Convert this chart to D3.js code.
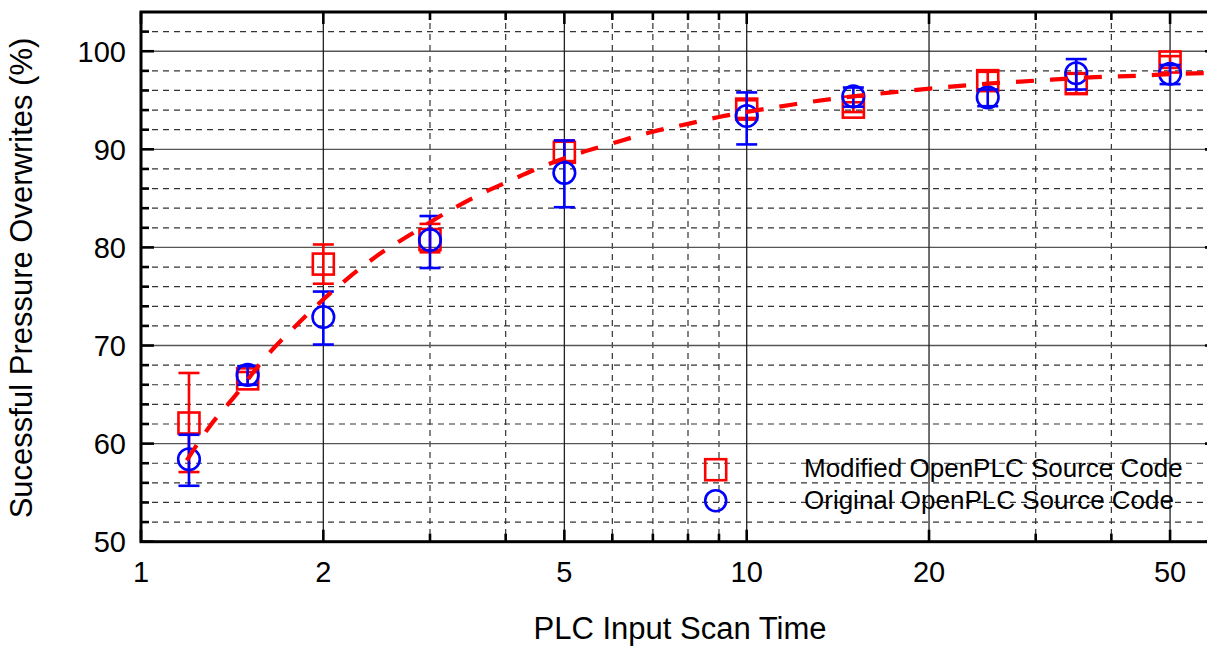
<!DOCTYPE html>
<html>
<head>
<meta charset="utf-8">
<script src="https://cdn.jsdelivr.net/npm/d3@7"></script>
<style>
  html, body { margin: 0; padding: 0; background: #fff; overflow: hidden; }
  svg { display: block; }
  text { font-family: "Liberation Sans", Arial, Helvetica, sans-serif; fill: #000; }
</style>
</head>
<body>
<script>
// ---------------- data ----------------
const scanTimes = [1.2, 1.5, 2, 3, 5, 10, 15, 25, 35, 50];

const modifiedMean = [62.1, 66.6, 78.3, 80.8, 89.7, 94.1, 94.3, 97.0, 96.7, 98.9];
const modifiedLow  = [57.1, 66.0, 76.3, 79.5, 88.8, 93.2, 93.8, 96.1, 95.7, 98.3];
const modifiedHigh = [67.2, 67.3, 80.3, 82.4, 90.9, 95.0, 94.8, 97.9, 97.7, 99.5];

const originalMean = [58.4, 67.0, 72.9, 80.75, 87.6, 93.4, 95.4, 95.3, 97.75, 97.7];
const originalLow  = [55.7, 66.0, 70.1, 77.9, 84.1, 90.5, 94.35, 94.4, 96.1, 96.65];
const originalHigh = [60.9, 67.9, 75.5, 83.2, 90.9, 95.8, 96.3, 96.1, 99.2, 98.6];

// fitted trend
const fitX = [1.19, 1.3, 1.44, 1.6, 1.8, 2.0, 2.2, 2.5, 2.8, 3.2, 3.6, 4, 4.5, 5, 6, 7, 8, 9, 10, 12, 15, 18, 21, 25, 30, 36, 44, 52, 60];
const fitY = [58.3, 61.8, 65.1, 68.7, 72.0, 74.7, 76.9, 79.5, 81.4, 83.6, 85.3, 86.6, 88.0, 89.1, 90.6, 91.8, 92.6, 93.3, 93.8, 94.6, 95.4, 95.9, 96.3, 96.7, 97.0, 97.3, 97.5, 97.7, 97.8];

const xMajorTicks = [1, 2, 5, 10, 20, 50];
const xMinorTicks = [3, 4, 6, 7, 8, 9, 30, 40];
const yMajorTicks = [50, 60, 70, 80, 90, 100];
const yMinorTicks = [52, 54, 56, 58, 62, 64, 66, 68, 72, 74, 76, 78, 82, 84, 86, 88, 92, 94, 96, 98, 102];

const seriesNames = ["Modified OpenPLC Source Code", "Original OpenPLC Source Code"];
const xTitle = "PLC Input Scan Time";
const yTitle = "Sucessful Pressure Overwrites (%)";

// ---------------- layout ----------------
const W = 1207, H = 647;
const pLeft = 141, pTop = 12, pBottom = 541.7;
const xDomain = [1, 60], yDomain = [50, 104];
const pRight = pLeft + 605.7 * Math.log10(xDomain[1]);

const x = d3.scaleLog().domain(xDomain).range([pLeft, pRight]);
const y = d3.scaleLinear().domain(yDomain).range([pBottom, pTop]);

const svg = d3.select("body").append("svg").attr("width", W).attr("height", H);
svg.append("rect").attr("width", W).attr("height", H).attr("fill", "#fff");

// ---------------- grid ----------------
const grid = svg.append("g");
grid.selectAll(".hmin").data(yMinorTicks).join("line")
  .attr("x1", pLeft).attr("x2", pRight).attr("y1", d => y(d)).attr("y2", d => y(d))
  .attr("stroke", "#333").attr("stroke-width", 1.2).attr("stroke-dasharray", "6,5");
grid.selectAll(".vmin").data(xMinorTicks).join("line")
  .attr("x1", d => x(d)).attr("x2", d => x(d)).attr("y1", pTop).attr("y2", pBottom)
  .attr("stroke", "#333").attr("stroke-width", 1.2).attr("stroke-dasharray", "6,5");
grid.selectAll(".hmaj").data(yMajorTicks.slice(1)).join("line")
  .attr("x1", pLeft).attr("x2", pRight).attr("y1", d => y(d)).attr("y2", d => y(d))
  .attr("stroke", "#555").attr("stroke-width", 1.4);
grid.selectAll(".vmaj").data(xMajorTicks.slice(1)).join("line")
  .attr("x1", d => x(d)).attr("x2", d => x(d)).attr("y1", pTop).attr("y2", pBottom)
  .attr("stroke", "#222").attr("stroke-width", 1.3);

// ---------------- series ----------------
const capHalf = 10.5;
function drawSeries(mean, low, high, color, marker) {
  const g = svg.append("g").attr("stroke", color).attr("fill", "none").attr("stroke-width", 2.6);
  const idx = d3.range(scanTimes.length);
  g.selectAll(".eb").data(idx).join("line")
    .attr("x1", i => x(scanTimes[i])).attr("x2", i => x(scanTimes[i]))
    .attr("y1", i => y(low[i])).attr("y2", i => y(high[i]));
  g.selectAll(".capL").data(idx).join("line")
    .attr("x1", i => x(scanTimes[i]) - capHalf).attr("x2", i => x(scanTimes[i]) + capHalf)
    .attr("y1", i => y(low[i])).attr("y2", i => y(low[i]));
  g.selectAll(".capH").data(idx).join("line")
    .attr("x1", i => x(scanTimes[i]) - capHalf).attr("x2", i => x(scanTimes[i]) + capHalf)
    .attr("y1", i => y(high[i])).attr("y2", i => y(high[i]));
  if (marker === "square") {
    g.selectAll(".mk").data(idx).join("rect")
      .attr("x", i => x(scanTimes[i]) - 10.5).attr("y", i => y(mean[i]) - 10.5)
      .attr("width", 21).attr("height", 21);
  } else {
    g.selectAll(".mk").data(idx).join("circle")
      .attr("cx", i => x(scanTimes[i])).attr("cy", i => y(mean[i])).attr("r", 10.8);
  }
}
drawSeries(modifiedMean, modifiedLow, modifiedHigh, "#ff0000", "square");
drawSeries(originalMean, originalLow, originalHigh, "#0000ff", "circle");

// fit line
const fitLine = d3.line().x(d => x(d[0])).y(d => y(d[1])).curve(d3.curveMonotoneX);
svg.append("path")
  .datum(fitX.map((v, i) => [v, fitY[i]]))
  .attr("d", fitLine)
  .attr("fill", "none").attr("stroke", "#ff0000").attr("stroke-width", 4.2)
  .attr("stroke-dasharray", "18,16");

// ---------------- axes / box ----------------
const ax = svg.append("g").attr("stroke", "#000");
ax.selectAll(".ylt").data(yMajorTicks.concat(yMinorTicks)).join("line")
  .attr("x1", pLeft).attr("x2", d => pLeft + (yMajorTicks.includes(d) ? 13 : 8))
  .attr("y1", d => y(d)).attr("y2", d => y(d)).attr("stroke-width", 2.6);
ax.selectAll(".yrt").data(yMajorTicks.concat(yMinorTicks)).join("line")
  .attr("x1", pRight).attr("x2", d => pRight - (yMajorTicks.includes(d) ? 13 : 8))
  .attr("y1", d => y(d)).attr("y2", d => y(d)).attr("stroke-width", 2.6);
ax.selectAll(".xbt").data(xMajorTicks.concat(xMinorTicks)).join("line")
  .attr("x1", d => x(d)).attr("x2", d => x(d))
  .attr("y1", pBottom).attr("y2", d => pBottom - (xMajorTicks.includes(d) ? 12 : 8)).attr("stroke-width", 2.6);
ax.selectAll(".xtt").data(xMajorTicks.concat(xMinorTicks)).join("line")
  .attr("x1", d => x(d)).attr("x2", d => x(d))
  .attr("y1", pTop).attr("y2", d => pTop + (xMajorTicks.includes(d) ? 12 : 8)).attr("stroke-width", 2.6);
ax.append("rect").attr("x", pLeft).attr("y", pTop).attr("width", pRight - pLeft).attr("height", pBottom - pTop)
  .attr("fill", "none").attr("stroke-width", 3);

// tick labels
svg.append("g").selectAll("text").data(xMajorTicks).join("text")
  .attr("x", d => x(d)).attr("y", 582).attr("text-anchor", "middle")
  .attr("font-size", 29).text(d => d);
svg.append("g").selectAll("text").data(yMajorTicks).join("text")
  .attr("x", 126).attr("y", d => y(d) + 10.5).attr("text-anchor", "end")
  .attr("font-size", 29).text(d => d);

// axis titles
svg.append("text").attr("x", 680).attr("y", 639).attr("text-anchor", "middle")
  .attr("font-size", 31).text(xTitle);
svg.append("text").attr("transform", "translate(32,278) rotate(-90)")
  .attr("text-anchor", "middle").attr("font-size", 31)
  .text(yTitle);

// ---------------- legend ----------------
const lg = svg.append("g");
lg.append("rect").attr("x", 715.7 - 10.5).attr("y", 469.7 - 10.5).attr("width", 21).attr("height", 21)
  .attr("fill", "none").attr("stroke", "#ff0000").attr("stroke-width", 2.6);
lg.append("circle").attr("cx", 715.7).attr("cy", 500.7).attr("r", 10.5)
  .attr("fill", "none").attr("stroke", "#0000ff").attr("stroke-width", 2.6);
lg.append("text").attr("x", 804).attr("y", 476.5).attr("font-size", 26).text(seriesNames[0]);
lg.append("text").attr("x", 804).attr("y", 508.5).attr("font-size", 26).text(seriesNames[1]);
</script>
</body>
</html>
